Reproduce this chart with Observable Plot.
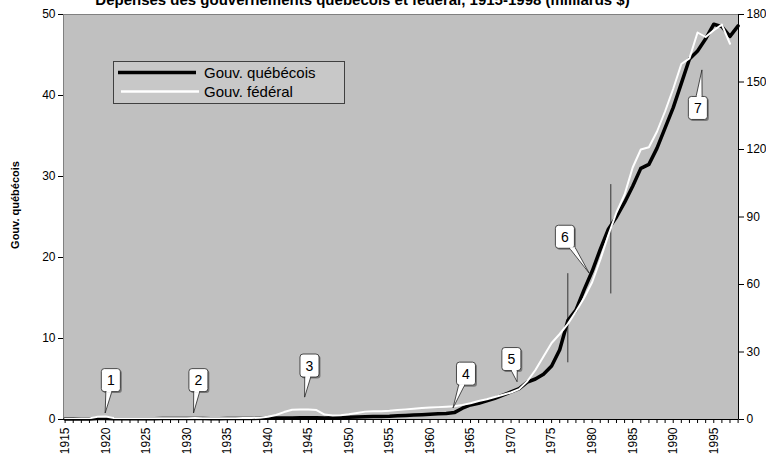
<!DOCTYPE html>
<html><head><meta charset="utf-8">
<script src="https://cdn.jsdelivr.net/npm/d3@7"></script>
<script src="https://cdn.jsdelivr.net/npm/@observablehq/plot@0.6"></script>
<style>
body{margin:0;background:#fff;font-family:"Liberation Sans",Arial,sans-serif;}
#wrap{position:relative;width:766px;height:456px;overflow:hidden;background:#fff;}
#wrap svg.chart{position:absolute;left:0;top:0;}
#title{position:absolute;left:0;width:725px;top:-8px;text-align:center;font-weight:bold;font-size:15px;line-height:15px;white-space:nowrap;}
#legend{position:absolute;left:113px;top:61px;width:230px;height:41px;background:#c8c8c8;border:1px solid #404040;}
#legend .row{position:absolute;left:0;height:19px;display:flex;align-items:center;font-size:15px;}
#ylabL{position:absolute;left:15px;top:205px;transform:translate(-50%,-50%) rotate(-90deg);font-weight:bold;font-size:11px;white-space:nowrap;}
#ylabR{position:absolute;left:708px;top:167px;width:19px;height:116px;background:#fff;}
#ylabR span{position:absolute;left:9.5px;top:41px;transform:translate(-50%,-50%) rotate(-90deg);font-weight:bold;font-size:11px;white-space:nowrap;}
</style></head><body>
<div id="wrap">
  <div id="title">Dépenses des gouvernements québécois et fédéral, 1915-1998 (milliards $)</div>
  <div id="ylabL">Gouv. québécois</div>
  <div id="ylabR"><span>Gouv. fédéral</span></div>
</div>
<script>
// ---- data ----
const years = d3.range(1915, 1999); // 1915..1998 categories
const quebec = [
  0.05,0.05,0.06,0.07,0.12,0.13,0.09,0.09,0.09,0.1,
  0.1,0.1,0.11,0.11,0.12,0.12,0.12,0.11,0.1,0.1,
  0.11,0.12,0.13,0.13,0.14,
  0.18,0.2,0.2,0.2,0.21,0.22,0.22,0.2,0.22,0.25,
  0.28,0.3,0.33,0.36,0.38,0.4,0.45,0.5,0.55,0.6,
  0.65,0.7,0.75,0.85,
  1.4,1.8,2.0,2.3,2.6,3.0,3.4,3.8,4.6,5.0,
  5.6,6.6,8.6,12.2,13.5,16.0,18.3,21.0,23.5,25.0,
  26.8,28.8,31.0,31.5,33.5,36.0,38.5,41.5,44.5,45.5,
  47.0,48.8,48.5,47.3,48.6
];
const federal = [
  0.3,0.35,0.4,0.5,1.2,1.3,0.7,0.6,
  0.55,0.55,0.55,0.55,0.55,0.6,0.6,0.6,0.65,0.6,0.6,0.6,0.6,0.6,0.65,0.7,0.75,
  1.2,2.0,3.3,4.3,4.4,4.4,4.2,2.2,1.8,1.9,
  2.3,2.9,3.5,3.7,3.7,3.9,4.2,4.5,4.8,5.1,
  5.3,5.5,5.7,5.9,6.5,7.2,8.2,9.0,10.0,11.0,
  12.0,13.5,17.0,22.0,28.0,34.0,38.0,42.5,48.0,54.0,
  61.0,71.0,82.0,92.0,100.0,112.0,120.0,121.0,128.0,137.0,
  147.0,158.0,160.5,172.0,170.0,173.0,175.5,167.0
];
const leftTicks = [0,10,20,30,40,50];
const rightTicks = [0,30,60,90,120,150,180];
const labelYears = [1915,1920,1925,1930,1935,1940,1945,1950,1955,1960,1965,1970,1975,1980,1985,1990,1995];
const seriesNames = ["Gouv. québécois","Gouv. fédéral"];

// callouts (numbered boxes) in data coordinates (left-axis units)
const calloutLabels = ["1","2","3","4","5","6","7"];
const calloutBoxYear = [1920.7,1931.5,1945.2,1964.5,1970.1,1976.7,1993.1];
const calloutBoxValue = [4.8,4.8,6.6,5.6,7.4,22.5,38.4];
const calloutTipYear = [1920.0,1930.9,1944.6,1962.9,1970.8,1979.7,1993.6];
const calloutTipValue = [0.74,0.74,2.7,1.36,4.6,18.0,43.1];
// vertical marker lines
const markerYear = [1977.0,1982.3];
const markerLow = [7.0,15.5];
const markerHigh = [18.0,29.0];

const xDomain = [1914.8, 1998.05];
const leftMax = 50, rightMax = 180;

// ---- build tables ----
const qData = quebec.map((v,i)=>({year: years[i], value: v}));
const fData = federal.map((v,i)=>({year: years[i], value: v*leftMax/rightMax}));

function callouts(index, scales) {
  const g = d3.create("svg:g");
  const w = 19, h = 23, half = 3;
  for (let i = 0; i < calloutLabels.length; i++) {
    const bx = scales.x(calloutBoxYear[i]), by = scales.y(calloutBoxValue[i]);
    const tx = scales.x(calloutTipYear[i]), ty = scales.y(calloutTipValue[i]);
    const dx = tx - bx, dy = ty - by;
    let ex, ey, ux, uy;
    if (Math.abs(dy) * w/2 >= Math.abs(dx) * h/2) {
      ey = by + Math.sign(dy)*h/2; ex = bx + dx*(h/2)/Math.abs(dy); ux = 1; uy = 0;
    } else {
      ex = bx + Math.sign(dx)*w/2; ey = by + dy*(w/2)/Math.abs(dx); ux = 0; uy = 1;
    }
    const p1 = [ex-ux*half, ey-uy*half], p2 = [ex+ux*half, ey+uy*half];
    g.append("rect").attr("x", bx-w/2+1.5).attr("y", by-h/2+1.5).attr("width", w).attr("height", h)
      .attr("rx", 3).attr("fill", "#7a7a7a");
    g.append("polygon").attr("points", [p1,[tx,ty],p2].map(p=>p.join(",")).join(" "))
      .attr("fill","#fff").attr("stroke","#222").attr("stroke-width",0.8);
    g.append("rect").attr("x", bx-w/2).attr("y", by-h/2).attr("width", w).attr("height", h)
      .attr("rx", 3).attr("fill", "#fff").attr("stroke", "#222").attr("stroke-width",0.8);
    g.append("line").attr("x1", ex-ux*(half-0.6)).attr("y1", ey-uy*(half-0.6))
      .attr("x2", ex+ux*(half-0.6)).attr("y2", ey+uy*(half-0.6))
      .attr("stroke","#fff").attr("stroke-width",2);
    g.append("text").attr("x", bx).attr("y", by+5).attr("text-anchor","middle")
      .attr("font-size", 14).attr("fill","#000").text(calloutLabels[i]);
  }
  return g.node();
}

const chart = Plot.plot({
  width: 766, height: 456,
  marginTop: 14, marginBottom: 37, marginLeft: 63, marginRight: 28,
  style: {fontFamily: "'Liberation Sans', Arial, sans-serif", fontSize: "12px", background: "transparent", color: "#000"},
  x: {domain: xDomain},
  y: {domain: [0, leftMax]},
  marks: [
    Plot.frame({fill: "#c0c0c0", stroke: "#808080"}),
    Plot.ruleX(markerYear.map((v,i)=>i), {x: i=>markerYear[i], y1: i=>markerLow[i], y2: i=>markerHigh[i], stroke: "#333", strokeWidth: 1}),
    Plot.line(qData, {x: "year", y: "value", stroke: "#000", strokeWidth: 3.5, strokeLinejoin: "round"}),
    Plot.line(fData, {x: "year", y: "value", stroke: "#fff", strokeWidth: 2, strokeLinejoin: "round"}),
    Plot.ruleY([0], {stroke: "#000"}),
    Plot.ruleX([xDomain[1]], {stroke: "#000"}),
    Plot.axisY(leftTicks, {anchor: "left", tickSize: 5, tickPadding: 3, label: null, fontSize: 12}),
    Plot.axisY(rightTicks.map(v=>v*leftMax/rightMax), {anchor: "right", tickSize: 5, tickPadding: 3, label: null, fontSize: 12,
      tickFormat: d => String(Math.round(d*rightMax/leftMax))}),
    Plot.axisX(years, {tickSize: 4, tickFormat: () => "", label: null}),
    Plot.axisX(labelYears, {tickSize: 0, tickPadding: 8, tickRotate: -90, label: null, fontSize: 12, tickFormat: d => String(d)}),
    callouts
  ]
});
chart.classList.add("chart");
document.getElementById("wrap").appendChild(chart);

// legend
const legend = document.createElement("div");
legend.id = "legend";
const swatch = [{stroke:"#000", w:3.5, x1:4, x2:82}, {stroke:"#fff", w:2.5, x1:7, x2:85}];
seriesNames.forEach((name, i) => {
  const row = document.createElement("div");
  row.className = "row";
  row.style.top = (1 + i*19) + "px";
  row.innerHTML = `<svg width="90" height="19"><line x1="${swatch[i].x1}" x2="${swatch[i].x2}" y1="9.5" y2="9.5" stroke="${swatch[i].stroke}" stroke-width="${swatch[i].w}"/></svg><span>${name}</span>`;
  legend.appendChild(row);
});
document.getElementById("wrap").appendChild(legend);
</script>
</body></html>
